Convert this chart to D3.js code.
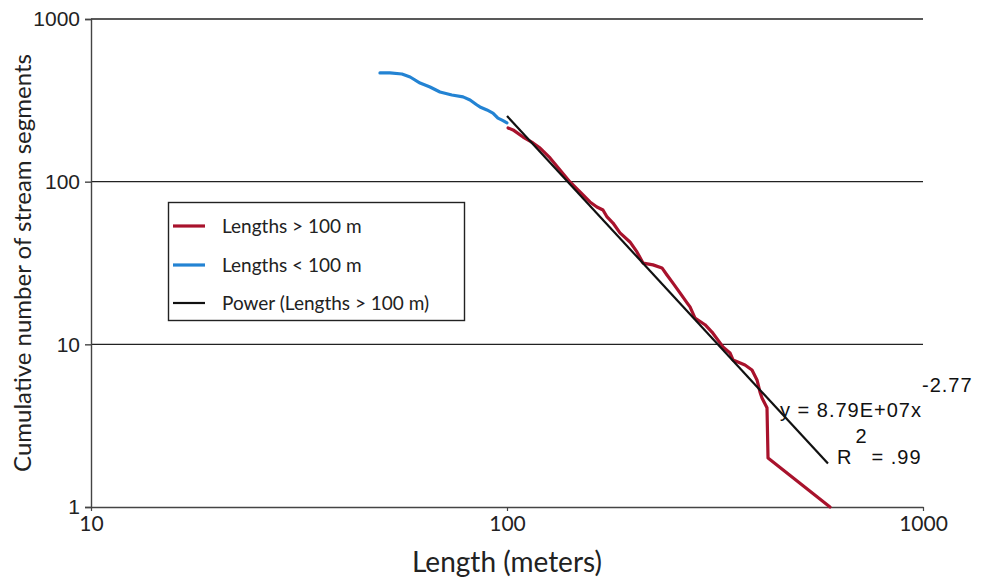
<!DOCTYPE html>
<html>
<head>
<meta charset="utf-8">
<script src="https://cdn.jsdelivr.net/npm/d3@7"></script>
<style>
  html, body { margin: 0; padding: 0; background: #fff; }
  svg { display: block; }
</style>
</head>
<body>
<svg id="chart" width="984" height="580"></svg>
<script>
// Cumulative stream-segment counts versus segment length (log-log)
const longSegments = [ // [length m, cumulative count] for lengths > 100 m
  [100.6, 214], [103.4, 208], [109.3, 188], [115.5, 173], [120.1, 161],
  [126.9, 140], [134.1, 118], [141.7, 99.6], [149.8, 86.4], [158.3, 75.0],
  [164.5, 69.9], [170.1, 67.0], [174.0, 60.7], [179.8, 55.7], [186.9, 48.4],
  [197.5, 42.6], [205.3, 37.0], [212.3, 31.6], [224.4, 30.8], [235.8, 29.5],
  [242.4, 26.7], [250.6, 23.8], [260.5, 20.7], [270.9, 18.0], [275.4, 17.0],
  [283.1, 14.5], [299.2, 13.2], [311.0, 11.9], [330.5, 9.64], [343.6, 8.85],
  [349.4, 8.02], [373.3, 7.47], [388.1, 6.96], [399.0, 6.04], [405.6, 5.10],
  [410.2, 4.68], [421.7, 4.07], [424.1, 2.0], [597.6, 1.0]
];
const shortSegments = [ // [length m, cumulative count] for lengths < 100 m
  [49.5, 466], [52.3, 466], [55.9, 459], [58.5, 440], [61.8, 404],
  [65.3, 382], [69.0, 356], [73.7, 341], [78.4, 332], [81.5, 318],
  [84.7, 296], [86.1, 288], [89.5, 276], [92.5, 264], [95.1, 246],
  [97.3, 239], [100, 230]
];
// Power-law fit y = a * x^b over lengths > 100 m
const powerCoef = 8.79e7;
const powerExp = -2.77;
const powerRange = [100, 591];
const rSquared = ".99";

const xTicks = [10, 100, 1000];
const yTicks = [1, 10, 100, 1000];
const legendItems = ["Lengths > 100 m", "Lengths < 100 m", "Power (Lengths > 100 m)"];

const colors = { long: "#a8122c", short: "#2383d3", fit: "#111" };

const svg = d3.select("#chart");
const plotLeft = 91, plotRight = 923, plotTop = 19, plotBottom = 507;

const x = d3.scaleLog().domain([10, 1000]).range([plotLeft, plotRight]);
const y = d3.scaleLog().domain([1, 1000]).range([plotBottom, plotTop]);

// horizontal gridlines at each decade
svg.append("g").selectAll("line")
  .data(yTicks.slice(1))
  .join("line")
  .attr("x1", plotLeft).attr("x2", plotRight)
  .attr("y1", d => y(d)).attr("y2", d => y(d))
  .attr("stroke", "#222").attr("stroke-width", 1.4);

// y axis
const yAxis = d3.axisLeft(y).tickValues(yTicks).tickFormat(d3.format("d")).tickSize(6).tickPadding(5);
svg.append("g").attr("transform", `translate(${plotLeft},0)`).call(yAxis)
  .call(g => g.select(".domain").attr("stroke", "#444").attr("stroke-width", 1.4))
  .call(g => g.selectAll(".tick line").attr("stroke", "#444").attr("stroke-width", 1.4))
  .call(g => g.selectAll(".tick text")
    .attr("font-family", "Liberation Sans, Arial, sans-serif")
    .attr("font-size", 21).attr("fill", "#222"));

// x axis
const xAxis = d3.axisBottom(x).tickValues(xTicks).tickFormat(d3.format("d")).tickSize(4).tickSizeOuter(0).tickPadding(5);
svg.append("g").attr("transform", `translate(0,${plotBottom})`).call(xAxis)
  .call(g => g.select(".domain").attr("stroke", "#444").attr("stroke-width", 1.4))
  .call(g => g.selectAll(".tick line").attr("stroke", "#444").attr("stroke-width", 1.2))
  .call(g => g.selectAll(".tick text")
    .attr("font-family", "Lato, 'Open Sans', sans-serif")
    .attr("font-size", 21).attr("fill", "#222"));

// axis titles
svg.append("text")
  .attr("transform", `translate(31,${(plotTop + plotBottom) / 2}) rotate(-90)`)
  .attr("text-anchor", "middle")
  .attr("font-family", "Lato, 'Open Sans', sans-serif")
  .attr("font-size", 24).attr("fill", "#222")
  .text("Cumulative number of stream segments");

svg.append("text")
  .attr("x", (plotLeft + plotRight) / 2).attr("y", 572)
  .attr("text-anchor", "middle")
  .attr("font-family", "Lato, 'Open Sans', sans-serif")
  .attr("font-size", 28).attr("fill", "#222")
  .text("Length (meters)");

const line = d3.line().x(d => x(d[0])).y(d => y(d[1]));

svg.append("path").datum(shortSegments)
  .attr("d", line).attr("fill", "none")
  .attr("stroke", colors.short).attr("stroke-width", 3.2)
  .attr("stroke-linejoin", "round").attr("stroke-linecap", "round");

svg.append("path").datum(longSegments)
  .attr("d", line).attr("fill", "none")
  .attr("stroke", colors.long).attr("stroke-width", 3.2)
  .attr("stroke-linejoin", "round").attr("stroke-linecap", "round");

// fitted power-law trend (straight in log-log space)
const fitPoints = powerRange.map(v => [v, powerCoef * Math.pow(v, powerExp)]);
svg.append("path").datum(fitPoints)
  .attr("d", line).attr("fill", "none")
  .attr("stroke", colors.fit).attr("stroke-width", 2.2);

// equation annotation
const eqFont = "Liberation Sans, Arial, sans-serif";
const eq = svg.append("text").attr("x", 780).attr("y", 417)
  .attr("font-family", eqFont).attr("font-size", 20).attr("letter-spacing", 1)
  .attr("fill", "#111");
eq.append("tspan").text(`y = ${(powerCoef / 1e7).toFixed(2)}E+07x`);
eq.append("tspan").attr("dy", -25).text(powerExp.toFixed(2));

const r2 = svg.append("text").attr("x", 837).attr("y", 464)
  .attr("font-family", eqFont).attr("font-size", 20).attr("letter-spacing", 1)
  .attr("fill", "#111");
r2.append("tspan").text("R");
r2.append("tspan").attr("dy", -21).attr("dx", 3).text("2");
r2.append("tspan").attr("dy", 21).attr("dx", 4).text(`= ${rSquared}`);

// legend
const legend = svg.append("g");
legend.append("rect")
  .attr("x", 168.5).attr("y", 202.5).attr("width", 296).attr("height", 118)
  .attr("fill", "#fff").attr("stroke", "#222").attr("stroke-width", 1.4);
const legendColors = [colors.long, colors.short, colors.fit];
const legendY = [226, 265, 303];
legendItems.forEach((label, i) => {
  legend.append("line")
    .attr("x1", 173).attr("x2", 205)
    .attr("y1", legendY[i]).attr("y2", legendY[i])
    .attr("stroke", legendColors[i]).attr("stroke-width", i === 2 ? 2.2 : 3.2);
  legend.append("text")
    .attr("x", 222).attr("y", legendY[i]).attr("dy", "0.35em")
    .attr("font-family", "Lato, 'Open Sans', sans-serif")
    .attr("font-size", 19).attr("fill", "#222")
    .text(label);
});
</script>
</body>
</html>
